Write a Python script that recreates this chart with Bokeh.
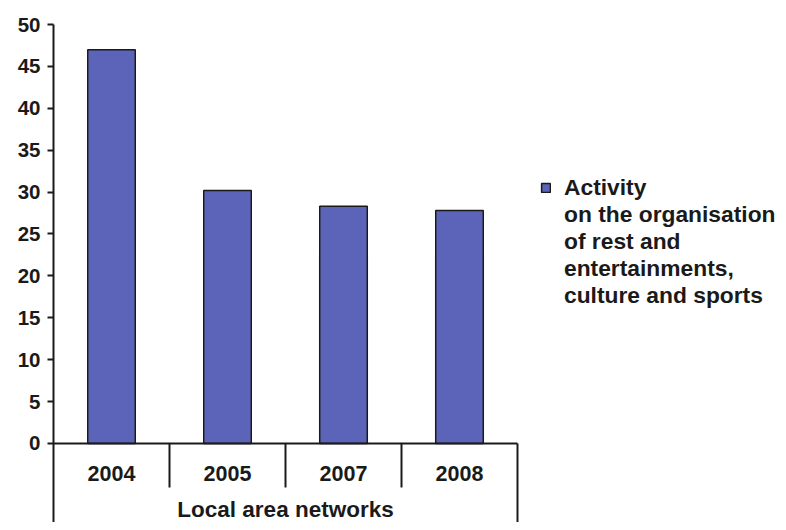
import numpy as np
from bokeh.plotting import figure
from bokeh.models import Range1d, FixedTicker, Legend, LegendItem
from bokeh.core.properties import value
from bokeh.embed import file_html
from bokeh.resources import INLINE

years = ["2004", "2005", "2007", "2008"]
values = [47.0, 30.2, 28.3, 27.8]
y_ticks = [0, 5, 10, 15, 20, 25, 30, 35, 40, 45, 50]
series_lines = ["Activity", "on the organisation", "of rest and",
                "entertainments,", "culture and sports"]
axis_title = "Local area networks"

BAR = "#5B64B8"
INK = "#1a1a1a"
FONT = "Liberation Sans"

n = len(years)
xc = np.arange(n) + 0.5

y_bottom = -9.43
p = figure(width=778, height=522, output_backend="svg", toolbar_location=None,
           x_range=Range1d(0, 6.25), y_range=Range1d(y_bottom, 50),
           x_axis_location=None, min_border_left=53, min_border_right=0,
           min_border_top=24, min_border_bottom=0)
p.outline_line_color = None
p.grid.visible = False
p.background_fill_color = "white"

ya = p.yaxis[0]
ya.ticker = FixedTicker(ticks=y_ticks, minor_ticks=[])
ya.axis_line_color = INK
ya.axis_line_width = 2
ya.major_tick_line_color = INK
ya.major_tick_line_width = 2
ya.major_tick_out = 6
ya.major_tick_in = 0
ya.major_label_standoff = 7
ya.major_label_text_font = FONT
ya.major_label_text_font_size = "20.5px"
ya.major_label_text_font_style = "bold"
ya.major_label_text_color = INK

bars = p.vbar(x=xc, top=values, bottom=0, width=0.41, fill_color=BAR,
              line_color=INK, line_width=1.5)
# invisible renderer that only carries the continuation lines of the legend label
ghost = p.vbar(x=[], top=[], width=0.41, fill_alpha=0, line_alpha=0)

# category axis box: base line, separators, right edge
p.segment(x0=[0], x1=[n], y0=[0], y1=[0], line_color=INK, line_width=2)
p.segment(x0=np.arange(1, n), x1=np.arange(1, n), y0=0, y1=-5.25,
          line_color=INK, line_width=2)
p.segment(x0=[n], x1=[n], y0=0, y1=y_bottom, line_color=INK, line_width=2)

p.text(x=xc, y=-3.6, text=years, text_align="center", text_baseline="middle",
       text_font=value(FONT), text_font_size="21.5px", text_font_style="bold",
       text_color=INK)
p.text(x=[n / 2], y=[y_bottom + 0.1], text=[axis_title], text_align="center",
       text_baseline="bottom", text_font=value(FONT), text_font_size="22.5px",
       text_font_style="bold", text_color=INK)

items = [LegendItem(label=series_lines[0], renderers=[bars])]
items += [LegendItem(label=t, renderers=[ghost]) for t in series_lines[1:]]
legend = Legend(items=items, location=(487, 213), padding=0, margin=0, spacing=0,
                glyph_width=11, glyph_height=11, label_standoff=13,
                border_line_color=None, background_fill_alpha=0,
                label_text_font=FONT, label_text_font_size="22.8px",
                label_text_font_style="bold", label_text_color=INK,
                label_height=20)
p.add_layout(legend)

open("out.html", "w").write(file_html(p, INLINE))
